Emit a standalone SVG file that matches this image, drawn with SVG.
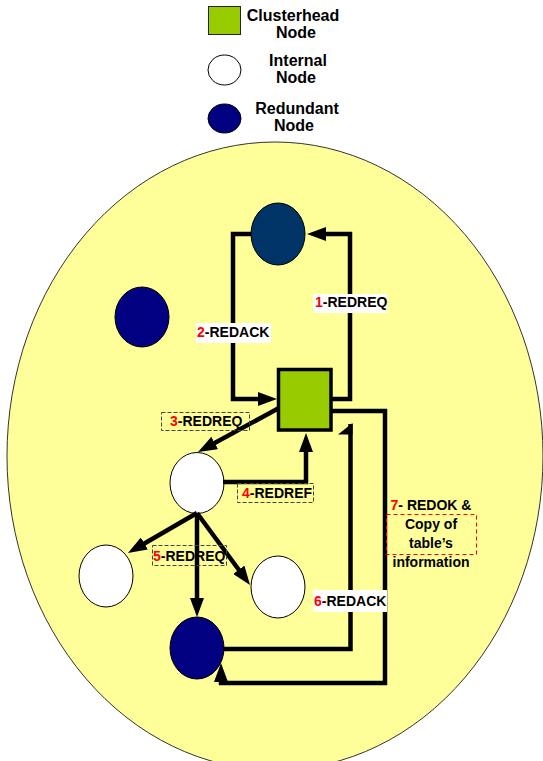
<svg xmlns="http://www.w3.org/2000/svg" width="543" height="761" viewBox="0 0 543 761">
<style>
text{font-family:"Liberation Sans",Arial,sans-serif;font-weight:bold;fill:#000}
.lg{font-size:16px;text-anchor:middle}
.lb{font-size:14px}
.n{fill:#FF0000}
.c{fill:none;stroke:#000;stroke-width:4.5;stroke-linejoin:miter}
.wn{fill:#FFFFFF;stroke:#000;stroke-width:1}
.rn{fill:#000080;stroke:#000;stroke-width:1}
.db{fill:none;stroke:#444;stroke-width:1;stroke-dasharray:4 2}
.wb{fill:#FFFFFF;stroke:none}
</style>
<defs>
<marker id="ah" markerUnits="userSpaceOnUse" markerWidth="19" markerHeight="14" viewBox="0 0 19 14" refX="9" refY="7" orient="auto">
<path d="M0,0 L19,7 L0,14 z" fill="#000"/>
</marker>
</defs>
<rect width="543" height="761" fill="#FFFFFF"/>
<g id="legend">
<rect x="208.5" y="6.5" width="32" height="28" fill="#99CC00" stroke="#222" stroke-width="1"/>
<text class="lg" x="293" y="21">Clusterhead</text>
<text class="lg" x="296" y="38">Node</text>
<ellipse cx="224.5" cy="70" rx="16.5" ry="15" class="wn"/>
<text class="lg" x="298" y="66">Internal</text>
<text class="lg" x="296" y="83">Node</text>
<ellipse cx="224.5" cy="118.5" rx="16.5" ry="14.5" class="rn"/>
<text class="lg" x="297" y="114">Redundant</text>
<text class="lg" x="294" y="131">Node</text>
</g>
<g id="cluster">
<ellipse cx="275" cy="456" rx="268" ry="314" fill="#FFFF99" stroke="#333" stroke-width="1"/>
</g>
<g id="node-top-redundant"><ellipse cx="278" cy="234" rx="27" ry="31" fill="#003366" stroke="#000" stroke-width="1"/></g>
<g id="node-left-redundant"><ellipse cx="142" cy="317" rx="27" ry="30" class="rn"/></g>
<g id="node-clusterhead"><rect x="278.5" y="369.5" width="52.5" height="60.5" fill="#99CC00" stroke="#000" stroke-width="3.5"/></g>
<g id="node-internal-mid"><ellipse cx="197" cy="483" rx="27" ry="30.5" class="wn"/></g>
<g id="node-internal-left"><ellipse cx="106" cy="576" rx="27" ry="31" class="wn"/></g>
<g id="node-internal-right"><ellipse cx="278" cy="587" rx="27" ry="31" class="wn"/></g>
<g id="node-bottom-redundant"><ellipse cx="197" cy="648" rx="27" ry="31" class="rn"/></g>
<g id="connectors">
<path class="c" d="M332,399 H350 V234 H317" marker-end="url(#ah)"/>
<path class="c" d="M251,234 H233 V399 H267" marker-end="url(#ah)"/>
<path class="c" d="M279,408 L206.8,447.3" marker-end="url(#ah)"/>
<path class="c" d="M223,482 H306 V443" marker-end="url(#ah)"/>
<path class="c" d="M197,513 L136.6,548" marker-end="url(#ah)"/>
<path class="c" d="M197,513 V607" marker-end="url(#ah)"/>
<path class="c" d="M197,513 L244.1,577" marker-end="url(#ah)"/>
<path class="c" d="M223,649 H350.5 V424"/>
<polygon points="338,434.5 352.5,423 352.5,434.5" fill="#000"/>
<path class="c" d="M332,411 H385 V683 H221 V673" marker-end="url(#ah)"/>
</g>
<g id="labels">
<rect class="wb" x="313" y="294" width="74" height="19"/>
<text class="lb" x="315" y="307"><tspan class="n">1</tspan>-REDREQ</text>
<rect class="wb" x="196" y="323" width="75" height="20"/>
<text class="lb" x="197" y="337"><tspan class="n">2</tspan>-REDACK</text>
<rect class="db" x="161.5" y="412.5" width="88" height="18"/>
<text class="lb" x="170" y="426"><tspan class="n">3</tspan>-REDREQ</text>
<rect class="db" x="237.5" y="483.5" width="76" height="19"/>
<text class="lb" x="242" y="498"><tspan class="n">4</tspan>-REDREF</text>
<rect class="db" x="152.5" y="545.5" width="74" height="20"/>
<text class="lb" x="153" y="561"><tspan class="n">5</tspan>-REDREQ</text>
<rect class="wb" x="313" y="590" width="74" height="22"/>
<text class="lb" x="314" y="606"><tspan class="n">6</tspan>-REDACK</text>
<rect x="386.5" y="514.5" width="90" height="40" fill="none" stroke="#FF0000" stroke-width="1" stroke-dasharray="4 3"/>
<text class="lb" text-anchor="middle" x="431" y="510"><tspan class="n">7</tspan>- REDOK &amp;</text>
<text class="lb" text-anchor="middle" x="431" y="529">Copy of</text>
<text class="lb" text-anchor="middle" x="431" y="548">table’s</text>
<text class="lb" text-anchor="middle" x="431" y="567">information</text>
</g>
</svg>
